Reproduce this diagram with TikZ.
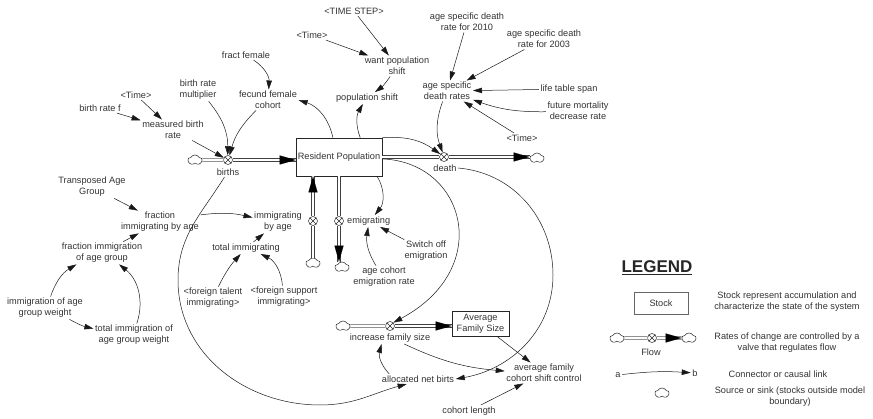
\documentclass[tikz,border=0pt]{standalone}
\usepackage{fontspec}
\setmainfont{Liberation Sans}
\usetikzlibrary{arrows.meta,shapes.symbols,calc}
\begin{document}
\begin{tikzpicture}[x=1pt,y=1pt,
  every node/.style={font=\fontsize{9.2}{10.8}\selectfont, text=black!80, inner sep=1.5pt},
  lbl/.style={align=center},
  stockbox/.style={draw=black!85, line width=0.6pt, rectangle, inner sep=0pt, align=center},
  valve/.style={circle, draw=black!85, line width=0.5pt, fill=white, minimum size=9pt, inner sep=0pt,
     path picture={\draw[line width=0.5pt,black!85] (path picture bounding box.north west) -- (path picture bounding box.south east) (path picture bounding box.south west) -- (path picture bounding box.north east);}},
  sky/.style={cloud, cloud puffs=5, cloud puff arc=120, aspect=1.4, draw=black!85, line width=0.5pt, minimum width=14pt, minimum height=10pt, inner sep=0pt},
  pipe/.style={draw=black!75, line width=0.55pt, double=white, double distance=2.2pt},
  fhead/.style={draw=white, line width=0.1pt, -{Triangle[length=16pt,width=9pt,color=black,fill=black]}},
  conn/.style={draw=black!90, line width=0.5pt, -{Triangle[length=9pt,width=5.5pt]}},
]
\useasboundingbox (0,0) rectangle (873,418);

% ---- top right: death rates
\node[lbl] (timestep) at (354,407) {<TIME STEP>};
\node[lbl] (timeA) at (312,383) {<Time>};
\node[lbl] (want) at (397,352) {want population\\shift};
\node[lbl] (popshift) at (367,320) {population shift};
\node[lbl] (asdrA) at (467,396) {age specific death\\rate for 2010};
\node[lbl] (asdrB) at (544,379) {age specific death\\rate for 2003};
\node[lbl] (asdr) at (447,327) {age specific\\death rates};
\node[lbl] (lts) at (569,329) {life table span};
\node[lbl] (fmdr) at (578,307) {future mortality\\decrease rate};
\node[lbl] (timeC) at (522,280) {<Time>};
% ---- top left: births
\node[lbl] (fract) at (246,363) {fract female};
\node[lbl] (brm) at (198,328) {birth rate\\multiplier};
\node[lbl] (ffc) at (268,318) {fecund female\\cohort};
\node[lbl] (timeB) at (136,323) {<Time>};
\node[lbl] (brf) at (100,310) {birth rate f};
\node[lbl] (mbr) at (173,288) {measured birth\\rate};

% ---- stock and flows
\node[stockbox, minimum width=86pt, minimum height=38pt] (rp) at (339,261) {Resident Population};
\node[sky] (srcb) at (195,258) {};
\node[valve] (vb) at (228,258) {};
\node[lbl] (births) at (228,246) {births};
\node[valve] (vd) at (444,261) {};
\node[lbl] (death) at (445,250) {death};
\node[sky] (sinkd) at (537,260) {};
\node[valve] (vi) at (313,197) {};
\node[sky] (ci) at (313,155) {};
\node[valve] (ve) at (339,197) {};
\node[sky] (ce) at (342,151) {};
\node[lbl, anchor=west] (emig) at (345.5,197) {emigrating};
\node[lbl] (switch) at (426,167) {Switch off\\emigration};
\node[lbl] (acer) at (384,141) {age cohort\\emigration rate};

% ---- immigration
\node[lbl] (iba) at (278,196) {immigrating\\by age};
\node[lbl] (totimm) at (246,170) {total immigrating};
\node[lbl] (ftal) at (213,120) {<foreign talent\\immigrating>};
\node[lbl] (fsup) at (284,121) {<foreign support\\immigrating>};
\node[lbl] (tag) at (92,231) {Transposed Age\\Group};
\node[lbl] (fiba) at (160,196) {fraction\\immigrating by age};
\node[lbl] (fiag) at (102,165) {fraction immigration\\of age group};
\node[lbl] (iagw) at (45,110) {immigration of age\\group weight};
\node[lbl] (tiagw) at (134,83) {total immigration of\\age group weight};

% ---- family size
\node[sky] (srcf) at (343,92) {};
\node[valve] (vf) at (390,92) {};
\node[lbl] (ifs) at (390,80) {increase family size};
\node[stockbox, minimum width=57pt, minimum height=25pt] (afs) at (480.5,94.5) {Average\\Family Size};
\node[lbl] (anb) at (418,39) {allocated net birts};
\node[lbl] (afc) at (544,45) {average family\\cohort shift control};
\node[lbl] (cl) at (469,7) {cohort length};

% ---- legend
\node[font=\fontsize{17}{20}\selectfont\bfseries, text=black!85] (legend) at (657,150) {\underline{LEGEND}};
\node[stockbox, draw=black!60, minimum width=54pt, minimum height=22pt] (lstock) at (661,115) {Stock};
\node[lbl] (lstockt) at (787,116) {Stock represent accumulation and\\characterize the state of the system};
\node[sky] (lc1) at (617,80) {};
\node[valve] (lv) at (652,80) {};
\node[sky] (lc2) at (689,80) {};
\node[lbl] (lflow) at (651,66) {Flow};
\node[lbl] (lflowt) at (787,75) {Rates of change are controlled by a\\valve that regulates flow};
\node[lbl] (la) at (618,43) {a};
\node[lbl] (lb) at (695,45) {b};
\node[lbl] (lconnt) at (778,44) {Connector or causal link};
\node[sky] (lc3) at (662,25) {};
\node[lbl] (lsrct) at (790,21) {Source or sink (stocks outside model\\boundary)};

% ---- flows (pipes)
\draw[pipe] (srcb) -- (vb);
\draw[pipe] (vb) -- (rp.west |- vb);
\draw[fhead] (vb) -- (rp.west |- vb);
\draw[pipe] (rp.east |- vd) -- (vd);
\draw[pipe] (vd) -- (vd -| sinkd.west);
\draw[fhead] (vd) -- (vd -| sinkd.west);
\draw[pipe] (ci) -- (vi);
\draw[pipe] (vi) -- (vi |- rp.south);
\draw[fhead] (vi) -- (vi |- rp.south);
\draw[pipe] (ve |- rp.south) -- (ve);
\draw[pipe] (ve) -- (ve |- ce.north);
\draw[fhead] (ve) -- (ve |- ce.north);
\draw[pipe] (srcf) -- (vf);
\draw[pipe] (vf) -- (afs.west |- vf);
\draw[fhead] (vf) -- (afs.west |- vf);
\draw[pipe] (lc1) -- (lv);
\draw[pipe] (lv) -- (lc2);
\draw[fhead] (lv) -- (lc2);

% ---- connectors
\draw[conn] (timestep) -- (want);
\draw[conn] (timeA) -- (want);
\draw[conn] (want) to[bend left=10] (popshift);
\draw[conn] ($(rp.north west)!0.745!(rp.north east)$) to[bend left=25] (popshift);
\draw[conn] ($(rp.north west)!0.43!(rp.north east)$) to[bend right=30] (ffc);
\draw[conn] (fract) to[bend left=30] (ffc);
\draw[conn] (brm) to[bend left=20] (vb);
\draw[conn] (ffc) to[bend right=15] (vb);
\draw[conn] (mbr) -- (vb);
\draw[conn] (timeB) -- (mbr);
\draw[conn] (brf) -- (mbr);
\draw[conn] (asdrA) -- (asdr);
\draw[conn] (asdrB) -- (asdr);
\draw[conn] (lts) -- (asdr);
\draw[conn] (fmdr) to[bend left=10] (asdr);
\draw[conn] (timeC) -- (asdr);
\draw[conn] (asdr) to[bend right=20] (vd);
\draw[conn] (rp.north east) to[bend left=20] (vd);
\draw[conn] ($(rp.south west)!0.94!(rp.south east)$) to[bend left=35] (emig);
\draw[conn] (switch) -- (emig);
\draw[conn] (acer) to[bend left=20] (emig);
\draw[conn] (fiba) to[bend left=10] (iba);
\draw[conn] (totimm) -- (iba);
\draw[conn] (ftal) to[bend left=8] (totimm);
\draw[conn] (fsup) to[bend right=30] (totimm);
\draw[conn] (tag) -- (fiba);
\draw[conn] (fiag) -- (fiba);
\draw[conn] (iagw) to[bend left=20] (fiag);
\draw[conn] (iagw) to[bend right=8] (tiagw);
\draw[conn] (tiagw) to[bend right=35] (fiag);
\draw[conn] ($(anb.north west)!0.12!(anb.north east)$) to[bend left=30] ($(ifs.south west)!0.4!(ifs.south east)$);
\draw[conn] (ifs) to[bend right=10] (afc);
\draw[conn] (afs) -- (afc);
\draw[conn] (cl) -- (afc);
\draw[conn] ($(rp.north east)!0.55!(rp.south east)$) .. controls (465,256) and (495,150) .. (vf.45);
\draw[conn] (death.east) to[out=-5,in=90] (553,143) to[out=-90,in=10] (anb.east);
\draw[conn] (births.235) to[out=238,in=90] (178,138) to[out=-90,in=180] (320,13) to[out=0,in=195] ($(anb.south west)!0.35!(anb.south east)$);
\draw[conn] (la) to[bend left=5] (lb);
\end{tikzpicture}
\end{document}
